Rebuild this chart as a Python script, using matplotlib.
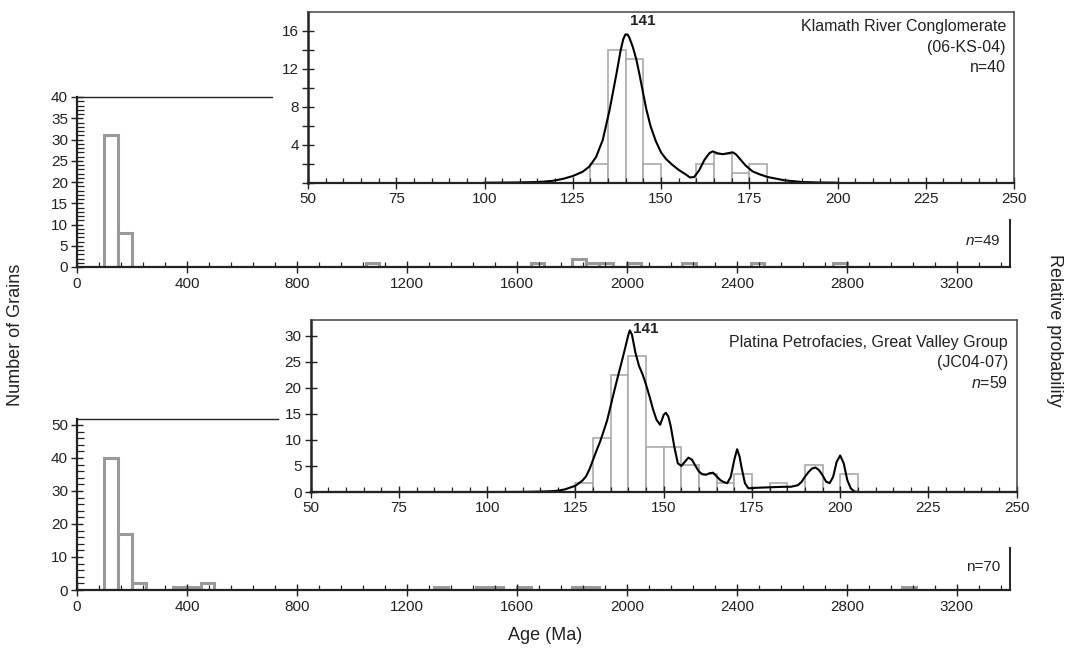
import matplotlib
matplotlib.use("Agg")
import matplotlib.pyplot as plt
from matplotlib.ticker import MultipleLocator, FixedLocator, FuncFormatter

plt.rcParams["font.family"] = ["Liberation Sans", "DejaVu Sans"]
plt.rcParams["mathtext.fontset"] = "custom"
plt.rcParams["mathtext.rm"] = "Liberation Sans"
plt.rcParams["mathtext.it"] = "Liberation Sans:italic"

# ---------------------------------------------
# Data
# ---------------------------------------------
# Upper panel: Klamath River Conglomerate (full age range, 50 Ma bins)
top_bin_left = [100, 150, 1050, 1650, 1800, 1850, 1900, 2000, 2200, 2450, 2750]
top_counts = [31, 8, 1, 1, 2, 1, 1, 1, 1, 1, 1]

# Upper inset (5 Ma bins)
top_in_left = [130, 135, 140, 145, 160, 165, 170, 175]
top_in_counts = [2, 14, 13, 2, 2, 3, 1, 2]

# Upper inset probability curve
top_curve_age = [100, 105, 110, 114.6, 117, 119.3, 122.2, 125, 127.8, 129.7,
                 131.6, 133.5, 135.4, 137.3, 138.6, 139.3, 139.9, 140.5, 141,
                 142, 143, 143.9, 145, 145.8, 147, 148.5, 150, 151.4, 153.3,
                 155.2, 157.1, 158.2, 159.4, 160.8, 162.3, 163.7, 164.6, 166,
                 167.5, 168.9, 170.3, 171.2, 172.6, 174, 175.9, 177.8, 180.2,
                 185, 190, 195, 200]
top_curve_val = [0.0, 0.01, 0.03, 0.07, 0.12, 0.2, 0.4, 0.7, 1.15, 1.7,
                 2.7, 4.5, 7.6, 11.3, 14.0, 15.1, 15.6, 15.6, 15.3,
                 14.3, 13.0, 11.4, 9.3, 7.8, 6.0, 4.4, 3.2, 2.5, 1.85,
                 1.3, 0.85, 0.55, 0.6, 1.3, 2.4, 3.1, 3.3, 3.1,
                 3.0, 3.1, 3.2, 3.0, 2.4, 1.8, 1.2, 0.9, 0.6,
                 0.25, 0.07, 0.02, 0.0]

# Lower panel: Platina Petrofacies (full age range, 50 Ma bins)
bot_bin_left = [100, 150, 200, 350, 400, 450, 1300, 1450, 1500, 1600, 1800, 1850, 3000]
bot_counts = [40, 17, 2, 1, 1, 2, 1, 1, 1, 1, 1, 1, 1]

# Lower inset (5 Ma bins, scaled to probability axis)
bot_in_left = [125, 130, 135, 140, 145, 150, 155, 160, 165, 170, 180, 190, 200]
bot_in_height = [1.7, 10.4, 22.5, 26.0, 8.7, 8.7, 5.2, 3.5, 1.7, 3.5, 1.7, 5.2, 3.5]

# Lower inset probability curve
bot_curve_age = [50, 100, 110, 115, 118, 120, 122, 125, 127, 128, 129, 130, 131,
                 132, 133, 134, 135, 136, 137, 138, 139, 140, 140.4, 141, 142,
                 143, 144, 145, 146, 147, 148, 149, 150, 150.6, 151.3, 152, 153,
                 154, 155, 156, 157, 158, 159, 160, 161, 162, 163, 164, 165, 166,
                 167, 168, 169, 170, 170.8, 171.5, 172, 173, 174, 176, 180, 184,
                 186, 188, 189, 190, 191, 192, 193, 194, 195, 196, 197, 198, 199,
                 200, 201, 202, 203, 204, 205, 250]
bot_curve_val = [0, 0, 0.02, 0.08, 0.15, 0.25, 0.5, 1.2, 2.2, 3.0, 4.4, 6.2, 8.0,
                 9.7, 11.7, 13.8, 16.6, 19.4, 22.1, 24.7, 27.4, 30.2, 31.0, 30.2, 26.7,
                 24.2, 22.6, 20.6, 18.3, 15.8, 13.8, 12.9, 14.8, 15.2, 14.5, 12.6, 8.7,
                 5.5, 5.0, 5.8, 6.6, 6.2, 5.0, 3.9, 3.4, 3.3, 3.6, 3.7, 3.0, 2.3,
                 1.9, 1.7, 2.9, 6.2, 8.2, 6.8, 4.9, 1.7, 0.7, 0.8, 0.9, 1.0,
                 1.0, 1.3, 1.9, 2.9, 3.8, 4.5, 4.7, 4.2, 3.2, 2.0, 1.7, 2.9, 5.8,
                 7.0, 5.5, 2.3, 0.7, 0.1, 0, 0]

W, H = 1078, 650
INK = "#222222"
BAR_EDGE = "#9a9a9a"
INSET_EDGE = "#aaaaaa"


def rect(left, right, top, bottom):
    # pixel box -> figure fraction [l, b, w, h]
    return [left / W, 1 - bottom / H, (right - left) / W, (bottom - top) / H]


def fxy(x, y):
    return x / W, 1 - y / H


def style_main(ax, ymax, ymajor, yminor, top_end, right_end):
    ax.set_xlim(0, 3395)
    ax.set_ylim(0, ymax)
    ax.xaxis.set_major_locator(FixedLocator(range(0, 3201, 400)))
    ax.xaxis.set_minor_locator(MultipleLocator(80))
    ax.yaxis.set_major_locator(MultipleLocator(ymajor))
    ax.yaxis.set_minor_locator(MultipleLocator(yminor))
    ax.tick_params(axis="both", which="major", direction="inout", length=9,
                   width=1.0, color=INK, labelsize=11, labelcolor=INK, pad=2)
    ax.tick_params(axis="y", which="minor", direction="in", length=5,
                   width=0.9, color=INK)
    ax.tick_params(axis="x", which="minor", direction="in", length=3.5,
                   width=0.9, color=INK)
    ax.tick_params(axis="x", which="major", pad=3)
    for s in ["left", "bottom"]:
        ax.spines[s].set_linewidth(1.6)
        ax.spines[s].set_color(INK)
    ax.spines["top"].set_bounds(0, top_end)
    ax.spines["top"].set_linewidth(1.0)
    ax.spines["top"].set_color(INK)
    ax.spines["right"].set_bounds(0, right_end)
    ax.spines["right"].set_linewidth(1.4)
    ax.spines["right"].set_color(INK)


def style_inset(ax, ymax):
    ax.set_xlim(50, 250)
    ax.set_ylim(0, ymax)
    ax.xaxis.set_major_locator(MultipleLocator(25))
    ax.xaxis.set_minor_locator(MultipleLocator(5))
    ax.tick_params(axis="both", which="major", direction="inout", length=9,
                   width=1.0, color=INK, labelsize=11, labelcolor=INK, pad=2)
    ax.tick_params(axis="y", which="minor", direction="inout", length=9,
                   width=1.0, color=INK)
    ax.tick_params(axis="x", which="minor", direction="in", length=3.5,
                   width=0.9, color=INK)
    for s in ["top", "right", "bottom"]:
        ax.spines[s].set_linewidth(1.1)
        ax.spines[s].set_color("#444444")
    ax.spines["left"].set_linewidth(1.8)
    ax.spines["left"].set_color(INK)
    ax.spines["bottom"].set_linewidth(1.6)
    ax.spines["bottom"].set_color(INK)


fig = plt.figure(figsize=(W / 100, H / 100), dpi=100)

# ---------------- upper main panel ----------------
ax1 = fig.add_axes(rect(77, 1010.5, 97, 267))
ax1.bar(top_bin_left, top_counts, width=50, align="edge", facecolor="white",
        edgecolor=BAR_EDGE, linewidth=2.2)
style_main(ax1, 40, 5, 1, 710, 11)
ax1.text(*fxy(1001, 241), r"$\it{n}$=49", transform=fig.transFigure,
         ha="right", va="center", fontsize=11, color=INK)

# ---------------- lower main panel ----------------
ax2 = fig.add_axes(rect(77, 1010.5, 419.3, 590))
ax2.bar(bot_bin_left, bot_counts, width=50, align="edge", facecolor="white",
        edgecolor=BAR_EDGE, linewidth=2.2)
style_main(ax2, 51.7, 10, 2, 730, 12.7)
ax2.text(*fxy(1000, 567), "n=70", transform=fig.transFigure,
         ha="right", va="center", fontsize=11, color=INK)

# ---------------- upper inset ----------------
ax3 = fig.add_axes(rect(308, 1014, 11.7, 182.7))
ax3.bar(top_in_left, top_in_counts, width=5, align="edge", facecolor="white",
        edgecolor=INSET_EDGE, linewidth=1.2)
ax3.plot(top_curve_age, top_curve_val, color="black", linewidth=1.5, clip_on=False)
style_inset(ax3, 18)
ax3.yaxis.set_major_locator(FixedLocator([0, 4, 8, 12, 16]))
ax3.yaxis.set_minor_locator(FixedLocator([2, 6, 10, 14]))
ax3.yaxis.set_major_formatter(FuncFormatter(lambda v, p: "" if v == 0 else f"{v:g}"))
ax3.text(141.2, 16.3, "141", fontsize=11, fontweight="bold", ha="left",
         va="bottom", color=INK)
for i, line in enumerate(["Klamath River Conglomerate", "(06-KS-04)", "n=40"]):
    fig.text(*fxy(1006, 27 + 20.5 * i), line, ha="right", va="center",
             fontsize=11.5, color=INK)

# ---------------- lower inset ----------------
ax4 = fig.add_axes(rect(310.7, 1016.7, 320, 492))
ax4.bar(bot_in_left, bot_in_height, width=5, align="edge", facecolor="white",
        edgecolor=INSET_EDGE, linewidth=1.2)
ax4.plot(bot_curve_age, bot_curve_val, color="black", linewidth=1.5, clip_on=False)
style_inset(ax4, 33)
ax4.yaxis.set_major_locator(MultipleLocator(5))
ax4.yaxis.set_minor_locator(FixedLocator([]))
ax4.text(141.3, 31.2, "141", fontsize=11, fontweight="bold", ha="left",
         va="center", color=INK)
for i, line in enumerate(["Platina Petrofacies, Great Valley Group", "(JC04-07)",
                          r"$\it{n}$=59"]):
    fig.text(*fxy(1008, 342 + 20.5 * i), line, ha="right", va="center",
             fontsize=11.5, color=INK)

# ---------------- shared labels ----------------
fig.text(*fxy(16, 335), "Number of Grains", rotation=90, ha="center",
         va="center", fontsize=13, color=INK)
fig.text(*fxy(1055, 330), "Relative probability", rotation=270, ha="center",
         va="center", fontsize=13, color=INK)
fig.text(*fxy(545, 636), "Age (Ma)", ha="center", va="center", fontsize=13,
         color=INK)

fig.savefig("out.png", dpi=100)
plt.close(fig)
